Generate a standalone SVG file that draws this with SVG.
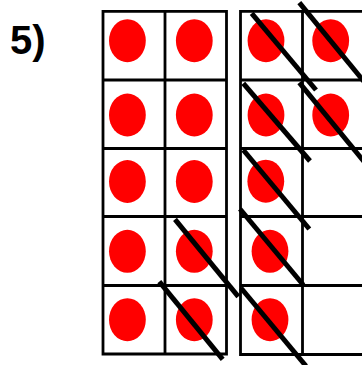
<svg xmlns="http://www.w3.org/2000/svg" width="362" height="365" viewBox="0 0 362 365">
<style>
.grid{fill:none;stroke:#000;stroke-width:2.8}
.dot{fill:#ff0000}
.slash{stroke:#000;stroke-width:5;stroke-linecap:butt}
.lbl{font-family:"Liberation Sans",Arial,sans-serif;font-weight:bold;font-size:40px;fill:#000}
</style>
<rect width="362" height="365" fill="#fff"/>
<text class="lbl" x="10" y="54">5)</text>
<g id="frameLeft">
<path class="grid" d="M103,11.3H226.5V354H103Z M165,11.3V354 M103,80H226.5 M103,148.5H226.5 M103,216.5H226.5 M103,285.5H226.5"/>
<ellipse class="dot" cx="127.4" cy="40.7" rx="18.4" ry="21.5"/>
<ellipse class="dot" cx="194.3" cy="40.7" rx="18.4" ry="21.5"/>
<ellipse class="dot" cx="127.4" cy="115" rx="18.4" ry="21.5"/>
<ellipse class="dot" cx="194.3" cy="115" rx="18.4" ry="21.5"/>
<ellipse class="dot" cx="127.4" cy="181.5" rx="18.4" ry="21.5"/>
<ellipse class="dot" cx="194.3" cy="181.5" rx="18.4" ry="21.5"/>
<ellipse class="dot" cx="127.4" cy="251.3" rx="18.4" ry="21.5"/>
<ellipse class="dot" cx="194.3" cy="251.3" rx="18.4" ry="21.5"/>
<ellipse class="dot" cx="127.4" cy="319.7" rx="18.4" ry="21.5"/>
<ellipse class="dot" cx="194.3" cy="319.7" rx="18.4" ry="21.5"/>
</g>
<g id="frameRight">
<path class="grid" d="M364.5,11.3H240.5V354.5H364.5 M302.5,11.3V354.5 M240.5,80H364.5 M240.5,148.5H364.5 M240.5,216.5H364.5 M240.5,285.5H364.5"/>
<ellipse class="dot" cx="266" cy="40.7" rx="18.4" ry="21.5"/>
<ellipse class="dot" cx="330.7" cy="40.7" rx="18.4" ry="21.5"/>
<ellipse class="dot" cx="266" cy="115" rx="18.4" ry="21.5"/>
<ellipse class="dot" cx="330.7" cy="115" rx="18.4" ry="21.5"/>
<ellipse class="dot" cx="265.8" cy="181.2" rx="18.4" ry="21.5"/>
<ellipse class="dot" cx="270" cy="251.3" rx="18.4" ry="21.5"/>
<ellipse class="dot" cx="270" cy="319.7" rx="18.4" ry="21.5"/>
</g>
<g id="connectors">
<line class="slash" x1="251.7" y1="13.3" x2="316" y2="90"/>
<line class="slash" x1="299.3" y1="2.7" x2="366" y2="84"/>
<line class="slash" x1="243.3" y1="83.3" x2="310" y2="161"/>
<line class="slash" x1="299.3" y1="82.7" x2="366" y2="164"/>
<line class="slash" x1="243.3" y1="150" x2="309.3" y2="229"/>
<line class="slash" x1="240" y1="209" x2="303.3" y2="285"/>
<line class="slash" x1="175" y1="219.3" x2="238.3" y2="296.7"/>
<line class="slash" x1="241" y1="288" x2="306" y2="366"/>
<line class="slash" x1="159.3" y1="281.7" x2="222.7" y2="359.3"/>
</g>
</svg>
